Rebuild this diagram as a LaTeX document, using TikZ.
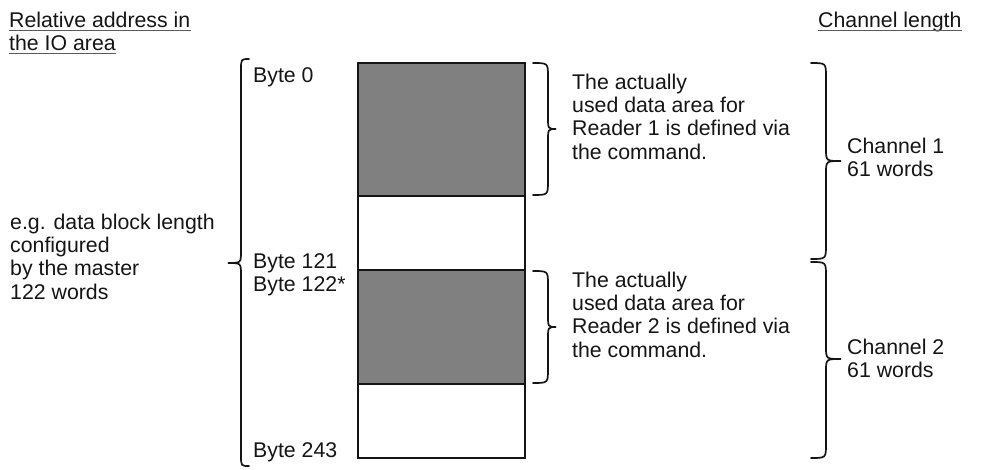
\documentclass[tikz,border=0pt]{standalone}
\usepackage{fontspec}
\setmainfont{Liberation Sans}
\definecolor{ink}{HTML}{151515}
\definecolor{areagray}{HTML}{808080}
\newcommand\lbltext{\fontsize{21.3}{23.3}\selectfont}
\begin{document}
\begin{tikzpicture}[x=1pt,y=-1pt,
  txt/.style={anchor=base west, inner sep=0pt, font=\lbltext, text=ink},
  block/.style={anchor=north west, inner sep=0pt, font=\lbltext, text=ink, align=left},
  brc/.style={draw=ink, line width=1.7pt, line cap=round},
  cell/.style={draw=ink, line width=1.7pt},
  uline/.style={draw=ink!70, line width=1.2pt}]
\useasboundingbox (0,0) rectangle (994,469);

% column headings
\node[txt] (rel1) at (9,27) {Relative address in};
\node[txt] (rel2) at (9,50) {the IO area};
\node[txt] (chl) at (818,27) {Channel length};
\draw[uline] ([yshift=-3.5pt]rel1.base west) -- ([yshift=-3.5pt]rel1.base east);
\draw[uline] ([yshift=-3.5pt]rel2.base west) -- ([yshift=-3.5pt]rel2.base east);
\draw[uline] ([yshift=-3.5pt]chl.base west) -- ([yshift=-3.5pt]chl.base east);

% block length note
\node[block] (blk) at (10,229-16.3) {\strut e.g. data block length\\configured\\by the master\\122 words};

% IO area column
\filldraw[cell, fill=areagray] (358,63) rectangle (525,196);
\draw[cell] (358,196) rectangle (525,270);
\filldraw[cell, fill=areagray] (358,270) rectangle (525,384);
\draw[cell] (358,384) rectangle (525,458);

% byte addresses
\node[txt] (b0) at (253,82) {Byte 0};
\node[txt] (b121) at (253,268) {Byte 121};
\node[txt] (b122) at (253,291) {Byte 122*};
\node[txt] (b243) at (253,457) {Byte 243};

% brace over the whole IO area
\draw[brc] (249,59) .. controls (241,59) .. (241,70) -- (241,251)
  .. controls (241,263) .. (228,263) .. controls (241,263) .. (241,275)
  -- (241,455) .. controls (241,466) .. (249,466);

% braces over the used data areas
\draw[brc] (533,63) .. controls (548,63) .. (548,77) -- (548,117)
  .. controls (548,129) .. (556,129) .. controls (548,129) .. (548,141)
  -- (548,181) .. controls (548,195) .. (533,195);
\draw[brc] (533,271) .. controls (548,271) .. (548,285) -- (548,315)
  .. controls (548,327) .. (556,327) .. controls (548,327) .. (548,339)
  -- (548,369) .. controls (548,383) .. (533,383);

\node[block] (rd1) at (572,89-16.3) {\strut The actually\\used data area for\\Reader 1 is defined via\\the command.};
\node[block] (rd2) at (572,287-16.3) {\strut The actually\\used data area for\\Reader 2 is defined via\\the command.};

% channel braces
\draw[brc] (811,63) .. controls (826,63) .. (826,77) -- (826,149)
  .. controls (826,161) .. (841,161) .. controls (826,161) .. (826,173)
  -- (826,245) .. controls (826,259) .. (811,259);
\draw[brc] (811,262) .. controls (826,262) .. (826,276) -- (826,347)
  .. controls (826,359) .. (841,359) .. controls (826,359) .. (826,371)
  -- (826,444) .. controls (826,458) .. (811,458);

\node[block] (ch1) at (847,153-16.3) {\strut Channel 1\\61 words};
\node[block] (ch2) at (847,354-16.3) {\strut Channel 2\\61 words};
\end{tikzpicture}
\end{document}
